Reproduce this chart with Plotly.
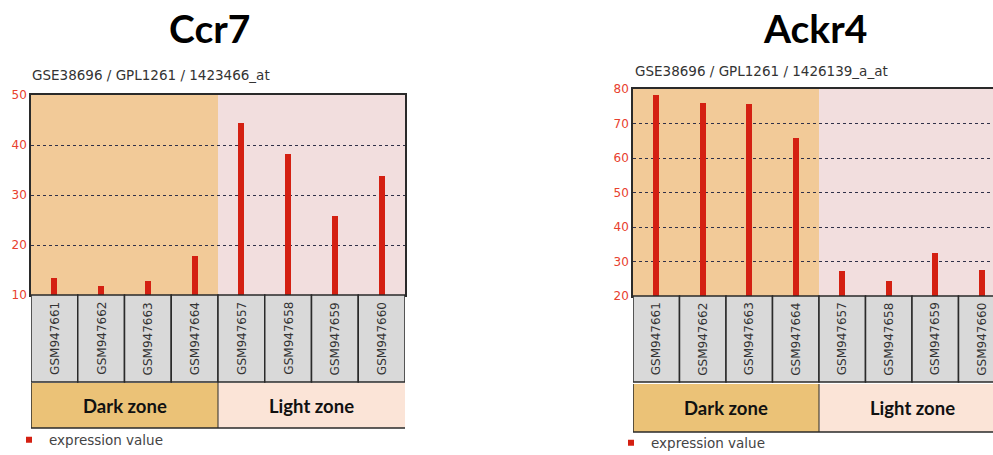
import plotly.graph_objects as go

# ---------------- data ----------------
samples = ["GSM947661", "GSM947662", "GSM947663", "GSM947664",
           "GSM947657", "GSM947658", "GSM947659", "GSM947660"]
ccr7_values = [13.5, 11.8, 12.8, 17.8, 44.5, 38.2, 25.8, 33.8]
ackr4_values = [78.2, 76.0, 75.6, 65.8, 27.2, 24.3, 32.5, 27.5]
zone_names = ["Dark zone", "Light zone"]
zone_first = [0, 4]
zone_last = [3, 7]
ccr7_ticks = [10, 20, 30, 40, 50]
ackr4_ticks = [20, 30, 40, 50, 60, 70, 80]
gene_titles = ["Ccr7", "Ackr4"]
subtitles = ["GSE38696 / GPL1261 / 1423466_at", "GSE38696 / GPL1261 / 1426139_a_at"]
series_name = "expression value"

# ---------------- style ----------------
W, H = 993, 455
BAR_RED = "#D42012"
TICK_RED = "#E8402E"
SHADE = ["#F2CA98", "#F2DEDE"]
ZONE_FILL = ["#EBC277", "#FBE4D7"]
BOX_GRAY = "#D9D9D9"
EDGE = "#2A2A2A"


def fx(p):
    return p / W


def fy(p):
    return 1 - p / H


panels = [
    dict(values=ccr7_values, ticks=ccr7_ticks, xd=(31, 405), yd=(95, 295),
         xr=[-0.5, 7.5], box=(295, 382), zone=(383, 428), legy=440,
         title_x=209, sub_x=30, sub_y=75, mirror=True),
    dict(values=ackr4_values, ticks=ackr4_ticks, xd=(633, 993), yd=(89, 296),
         xr=[-0.5, -0.5 + (993 - 633) / 46.5], box=(296, 382), zone=(384, 432), legy=443,
         title_x=815, sub_x=633, sub_y=71, mirror=False),
]

fig = go.Figure()
shapes = []
annotations = []
x_idx = list(range(len(samples)))

for k, p in enumerate(panels):
    sfx = "" if k == 0 else str(k + 1)
    xref = "x" + sfx
    yref = "y" + sfx
    leg = "legend" + sfx

    fig.add_trace(go.Bar(x=x_idx, y=p["values"], width=0.13, marker_color=BAR_RED,
                         marker_line_width=0, xaxis=xref, yaxis=yref, showlegend=False,
                         hoverinfo="x+y"))
    fig.add_trace(go.Scatter(x=[None], y=[None], mode="markers", name=series_name,
                             marker=dict(symbol="square", size=6, color=BAR_RED),
                             xaxis=xref, yaxis=yref, legend=leg, showlegend=True))

    axis_x = dict(domain=[fx(p["xd"][0]), fx(p["xd"][1])], range=p["xr"],
                  showticklabels=False, ticks="", showgrid=False, zeroline=False,
                  showline=True, linecolor=EDGE, linewidth=1.5, mirror=True,
                  anchor=yref, fixedrange=True, automargin=False)
    axis_y = dict(domain=[fy(p["yd"][1]), fy(p["yd"][0])],
                  range=[p["ticks"][0], p["ticks"][-1]], tickvals=p["ticks"],
                  tickfont=dict(family="DejaVu Sans", size=12, color=TICK_RED),
                  ticks="", showgrid=True, gridcolor="#303048", gridwidth=1, griddash="dot",
                  zeroline=False, showline=True, linecolor=EDGE, linewidth=1.5,
                  mirror=p["mirror"], anchor=xref, fixedrange=True, automargin=False)
    fig.layout["xaxis" + sfx] = axis_x
    fig.layout["yaxis" + sfx] = axis_y

    # zone shading inside plot
    for z in range(len(zone_names)):
        shapes.append(dict(type="rect", xref=xref, yref=yref + " domain",
                           x0=zone_first[z] - 0.5, x1=zone_last[z] + 0.5, y0=0, y1=1,
                           fillcolor=SHADE[z], line_width=0, layer="below"))
    # sample label boxes
    for i, s in enumerate(samples):
        shapes.append(dict(type="rect", xref=xref, yref="paper",
                           x0=i - 0.5, x1=i + 0.5, y0=fy(p["box"][1]), y1=fy(p["box"][0]),
                           fillcolor=BOX_GRAY, line=dict(color=EDGE, width=1.5), layer="above"))
        annotations.append(dict(xref=xref, yref="paper", x=i,
                                y=fy((p["box"][0] + p["box"][1]) / 2), text=s, textangle=-90,
                                xanchor="center", yanchor="middle",
                                showarrow=False, font=dict(family="DejaVu Sans", size=12, color="#333333")))
    # zone boxes
    for z in range(len(zone_names)):
        shapes.append(dict(type="rect", xref=xref, yref="paper",
                           x0=zone_first[z] - 0.5, x1=zone_last[z] + 0.5,
                           y0=fy(p["zone"][1]), y1=fy(p["zone"][0]),
                           fillcolor=ZONE_FILL[z], line_width=0, layer="above"))
        annotations.append(dict(xref=xref, yref="paper", x=(zone_first[z] + zone_last[z]) / 2,
                                y=fy((p["zone"][0] + p["zone"][1]) / 2), text="<b>%s</b>" % zone_names[z],
                                xanchor="center", yanchor="middle",
                                showarrow=False, font=dict(family="Lato", size=18.5, color="#111111")))
    shapes.append(dict(type="path", xref=xref, yref="paper",
                       path="M %f,%f L %f,%f L %f,%f" % (-0.5, fy(p["zone"][0]), -0.5, fy(p["zone"][1]),
                                                       7.5, fy(p["zone"][1])),
                       line=dict(color=EDGE, width=1.5), layer="above"))
    shapes.append(dict(type="line", xref=xref, yref="paper", x0=3.5, x1=3.5,
                       y0=fy(p["zone"][1]), y1=fy(p["zone"][0]),
                       line=dict(color=EDGE, width=1), layer="above"))

    # titles
    annotations.append(dict(xref="paper", yref="paper", x=fx(p["title_x"]), y=fy(28),
                            text="<b>%s</b>" % gene_titles[k], showarrow=False,
                            xanchor="center", yanchor="middle",
                            font=dict(family="Lato", size=39, color="#000000")))
    annotations.append(dict(xref="paper", yref="paper", x=fx(p["sub_x"]), y=fy(p["sub_y"]),
                            text=subtitles[k], showarrow=False, xanchor="left", yanchor="middle",
                            font=dict(family="DejaVu Sans", size=13.5, color="#333333")))

    fig.layout[leg] = dict(x=fx(p["xd"][0] - 22), y=fy(p["legy"]), xanchor="left", yanchor="middle",
                           bgcolor="rgba(0,0,0,0)", borderwidth=0, itemwidth=30,
                           font=dict(family="DejaVu Sans", size=13.5, color="#444444"))

fig.update_layout(width=W, height=H, autosize=False, margin=dict(l=0, r=0, t=0, b=0, autoexpand=False),
                  paper_bgcolor="white", plot_bgcolor="rgba(0,0,0,0)",
                  shapes=shapes, annotations=annotations, bargap=0)

fig.write_html("out.html", config={"displayModeBar": False},
               post_script="document.body.style.margin='0';document.body.style.overflow='hidden';")
